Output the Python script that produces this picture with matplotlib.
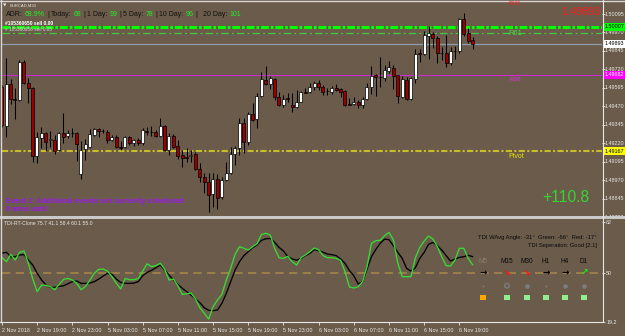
import matplotlib
matplotlib.use("Agg")
import matplotlib.pyplot as plt
from matplotlib.patches import Rectangle
import matplotlib.transforms as mtransforms
import numpy as np

# ------------------------------------------------------------------ data
time_labels = ["2 Nov 2018", "2 Nov 19:00", "2 Nov 23:00", "5 Nov 03:00", "5 Nov 07:00",
               "5 Nov 11:00", "5 Nov 15:00", "5 Nov 19:00", "5 Nov 23:00", "6 Nov 03:00",
               "6 Nov 07:00", "6 Nov 11:00", "6 Nov 15:00", "6 Nov 19:00"]
time_label_bars = [0, 8, 16, 24, 32, 40, 48, 56, 64, 72, 80, 88, 96, 104]

open_ = [1.49601, 1.49336, 1.49621, 1.49519, 1.49513, 1.49770, 1.49628, 1.49594, 1.49133, 1.49255,
         1.49289, 1.49242, 1.49242, 1.49174, 1.49289, 1.49269, 1.49289, 1.49289, 1.49011, 1.49181,
         1.49194, 1.49275, 1.49316, 1.49303, 1.49296, 1.49242, 1.49262, 1.49194, 1.49194, 1.49262,
         1.49221, 1.49242, 1.49221, 1.49303, 1.49296, 1.49296, 1.49269, 1.49336, 1.49174, 1.49269,
         1.49201, 1.49140, 1.49126, 1.49133, 1.49147, 1.49045, 1.48991, 1.48957, 1.48876, 1.48977,
         1.48856, 1.48971, 1.49018, 1.49147, 1.49187, 1.49357, 1.49228, 1.49418, 1.49384, 1.49540,
         1.49648, 1.49621, 1.49655, 1.49533, 1.49479, 1.49526, 1.49479, 1.49465, 1.49499, 1.49567,
         1.49567, 1.49601, 1.49628, 1.49601, 1.49574, 1.49567, 1.49594, 1.49587, 1.49574, 1.49485,
         1.49485, 1.49499, 1.49479, 1.49519, 1.49601, 1.49682, 1.49668, 1.49662, 1.49709, 1.49729,
         1.49682, 1.49533, 1.49648, 1.49519, 1.49655, 1.49831, 1.49824, 1.49946, 1.49960, 1.49932,
         1.49831, 1.49831, 1.49763, 1.49844, 1.49844, 1.50061, 1.49966, 1.49919]
high = [1.49614, 1.49797, 1.49655, 1.49594, 1.49783, 1.49783, 1.49662, 1.49601, 1.49296, 1.49330,
        1.49296, 1.49303, 1.49275, 1.49296, 1.49424, 1.49309, 1.49323, 1.49296, 1.49235, 1.49248,
        1.49316, 1.49323, 1.49323, 1.49316, 1.49309, 1.49275, 1.49275, 1.49235, 1.49269, 1.49269,
        1.49248, 1.49255, 1.49323, 1.49330, 1.49336, 1.49309, 1.49391, 1.49343, 1.49289, 1.49282,
        1.49242, 1.49174, 1.49187, 1.49174, 1.49160, 1.49086, 1.49018, 1.49018, 1.49018, 1.49011,
        1.48991, 1.49093, 1.49194, 1.49201, 1.49391, 1.49391, 1.49431, 1.49492, 1.49560, 1.49702,
        1.49743, 1.49675, 1.49662, 1.49567, 1.49546, 1.49560, 1.49560, 1.49580, 1.49574, 1.49594,
        1.49628, 1.49641, 1.49648, 1.49614, 1.49594, 1.49607, 1.49621, 1.49594, 1.49580, 1.49526,
        1.49533, 1.49513, 1.49533, 1.49628, 1.49743, 1.49689, 1.49804, 1.49750, 1.49777, 1.49750,
        1.49682, 1.49675, 1.49668, 1.49668, 1.49858, 1.49858, 1.49980, 1.50014, 1.49973, 1.49946,
        1.49872, 1.49953, 1.49872, 1.49878, 1.50068, 1.50102, 1.50000, 1.49939]
low = [1.49330, 1.49262, 1.49485, 1.49384, 1.49506, 1.49621, 1.49492, 1.49093, 1.49086, 1.49187,
       1.49167, 1.49194, 1.49147, 1.49167, 1.49221, 1.49255, 1.49262, 1.49099, 1.48977, 1.49106,
       1.49187, 1.49269, 1.49262, 1.49289, 1.49221, 1.49235, 1.49187, 1.49174, 1.49187, 1.49208,
       1.49201, 1.49208, 1.49208, 1.49275, 1.49269, 1.49262, 1.49262, 1.49167, 1.49140, 1.49187,
       1.49113, 1.49059, 1.49093, 1.49093, 1.49038, 1.48957, 1.48883, 1.48754, 1.48788, 1.48774,
       1.48842, 1.48964, 1.49011, 1.49072, 1.49140, 1.49154, 1.49208, 1.49370, 1.49323, 1.49533,
       1.49614, 1.49587, 1.49513, 1.49472, 1.49465, 1.49499, 1.49431, 1.49458, 1.49499, 1.49560,
       1.49560, 1.49580, 1.49580, 1.49546, 1.49546, 1.49553, 1.49574, 1.49533, 1.49472, 1.49479,
       1.49479, 1.49458, 1.49458, 1.49513, 1.49553, 1.49540, 1.49601, 1.49641, 1.49695, 1.49587,
       1.49492, 1.49526, 1.49513, 1.49513, 1.49628, 1.49770, 1.49817, 1.49790, 1.49865, 1.49763,
       1.49783, 1.49736, 1.49750, 1.49790, 1.49831, 1.49946, 1.49899, 1.49858]
close = [1.49343, 1.49621, 1.49519, 1.49513, 1.49770, 1.49628, 1.49594, 1.49133, 1.49262, 1.49289,
         1.49228, 1.49248, 1.49167, 1.49289, 1.49262, 1.49289, 1.49292, 1.49215, 1.49174, 1.49215,
         1.49282, 1.49316, 1.49303, 1.49300, 1.49242, 1.49262, 1.49194, 1.49190, 1.49262, 1.49221,
         1.49242, 1.49221, 1.49309, 1.49296, 1.49298, 1.49269, 1.49336, 1.49174, 1.49269, 1.49194,
         1.49133, 1.49120, 1.49123, 1.49140, 1.49045, 1.48991, 1.48957, 1.48869, 1.48977, 1.48849,
         1.48971, 1.49018, 1.49147, 1.49187, 1.49357, 1.49228, 1.49418, 1.49377, 1.49540, 1.49655,
         1.49621, 1.49662, 1.49533, 1.49479, 1.49519, 1.49522, 1.49465, 1.49499, 1.49567, 1.49563,
         1.49601, 1.49628, 1.49601, 1.49567, 1.49571, 1.49594, 1.49580, 1.49567, 1.49479, 1.49482,
         1.49499, 1.49479, 1.49519, 1.49601, 1.49675, 1.49668, 1.49671, 1.49716, 1.49736, 1.49675,
         1.49540, 1.49655, 1.49519, 1.49662, 1.49824, 1.49824, 1.49953, 1.49966, 1.49932, 1.49831,
         1.49828, 1.49763, 1.49844, 1.49847, 1.50061, 1.49960, 1.49912, 1.49892]

tdi_green = [59.4, 56.9, 61.5, 57.9, 62.8, 63.6, 55.9, 46.0, 38.1, 42.1,
             42.1, 41.2, 39.3, 42.7, 45.8, 46.4, 45.4, 43.3, 39.3, 41.4,
             45.4, 49.6, 52.1, 52.3, 51.0, 47.5, 43.3, 39.8, 46.4, 45.6,
             45.6, 46.4, 51.0, 55.6, 53.8, 54.4, 55.9, 52.1, 45.4, 46.0,
             41.8, 36.4, 36.8, 37.2, 33.5, 28.0, 24.5, 20.9, 28.7, 32.9,
             36.4, 45.4, 52.7, 61.5, 66.3, 65.3, 64.2, 66.3, 68.2, 74.0,
             74.7, 73.6, 65.3, 59.4, 59.0, 60.2, 56.9, 54.8, 59.4, 61.1,
             63.2, 65.5, 64.4, 60.7, 59.4, 59.4, 59.0, 57.7, 50.6, 41.0,
             40.4, 41.2, 44.4, 53.8, 68.4, 70.1, 70.3, 73.2, 75.3, 70.5,
             55.9, 47.5, 47.5, 47.5, 59.4, 65.9, 69.9, 73.0, 71.1, 66.3,
             60.0, 54.4, 54.2, 57.9, 65.3, 65.3, 59.0, 55.0]
tdi_black = [62.3, 62.8, 60.0, 60.0, 61.1, 61.3, 57.9, 54.8, 49.6, 45.4,
             42.3, 40.8, 40.8, 41.4, 41.8, 43.1, 44.4, 44.8, 43.3, 43.3,
             43.5, 44.4, 46.0, 47.9, 49.6, 49.0, 46.0, 43.9, 43.3, 43.3,
             43.5, 44.4, 48.1, 50.2, 51.5, 53.1, 54.8, 51.7, 48.5, 45.4,
             42.7, 40.2, 38.1, 36.0, 33.5, 31.2, 28.0, 26.4, 26.2, 26.6,
             30.8, 37.0, 44.4, 51.7, 56.9, 60.7, 63.2, 65.7, 67.4, 70.3,
             71.3, 71.5, 69.0, 65.9, 63.6, 60.0, 58.6, 57.9, 59.0, 60.7,
             62.1, 64.4, 63.8, 62.8, 61.7, 61.3, 60.7, 58.6, 55.9, 51.3,
             48.1, 42.9, 44.4, 52.3, 60.0, 64.6, 68.4, 71.1, 70.7, 66.9,
             62.8, 59.0, 52.7, 51.0, 53.1, 59.0, 62.8, 67.8, 69.0, 66.9,
             64.2, 60.7, 57.3, 58.6, 59.6, 60.0, 60.9, 60.1]

price_ticks = [1.50095, 1.49970, 1.49845, 1.49720, 1.49595, 1.49470,
               1.49345, 1.49220, 1.49095, 1.48970, 1.48845, 1.48720]
level_top = 1.50007
level_r61 = 1.49966
level_bid = 1.49893
level_r38 = 1.49682
level_pivot = 1.49167
level_r100_label = "R100"
tdi_ticks = [82, 50, 19.2]
tdi_mid = 50
tdi_header = "TDI-RT-Clone 75.7 41.1 58.4 60.1 55.0"
adr_pieces = [("ADR:", "k"), ("68.9%", "g"), ("|", "k"), ("Today:", "k"), ("68", "g"),
              ("|", "k"), ("1 Day:", "k"), ("99", "g"), ("|", "k"), ("5 Day:", "k"), ("78", "g"),
              ("|", "k"), ("10 Day:", "k"), ("96", "g"), ("|", "k"), ("20 Day:", "k"), ("101", "g")]
tf_labels = ["M5", "M15", "M30", "H1", "H4", "D1"]
tf_arrows = ["→", "↘", "↘", "→", "→", "↗"]
tf_arrow_colors = ["#000000", "#FF1010", "#FF1010", "#000000", "#000000", "#10EE10"]
tf_dots = ["small", "ring", "dot", "small", "dot", "dot"]
tf_squares = ["#FFA500", "#90EE90", "#90EE90", "#90EE90", "#90EE90", "#90EE90"]

# ------------------------------------------------------------------ layout
W, H = 625, 336
BG = "#6B5B4B"
FG = "#E8E8E8"
plt.rcParams['font.family'] = ['Liberation Sans', 'DejaVu Sans']
fig = plt.figure(figsize=(W / 100, H / 100), dpi=100)
fig.patch.set_facecolor(BG)


def px_rect(x0, y0, x1, y1):
    return [x0 / W, 1 - y1 / H, (x1 - x0) / W, (y1 - y0) / H]


PX_PER_BAR = 4.4
X0_BAR = 1.7
AX_L, AX_R = 2, 602
xlim = ((AX_L - X0_BAR) / PX_PER_BAR, (AX_R - X0_BAR) / PX_PER_BAR)

ax = fig.add_axes(px_rect(AX_L, 2, AX_R, 215))
sub = fig.add_axes(px_rect(AX_L, 219, AX_R, 322))
for a in (ax, sub):
    a.set_facecolor(BG)
    for s in a.spines.values():
        s.set_visible(False)
    a.set_xlim(*xlim)

ax.set_ylim(1.487336, 1.501763)
sub.set_ylim(19.07, 83.69)

# ---- candles
o = np.array(open_); c = np.array(close); hi = np.array(high); lo = np.array(low)
idx = np.arange(len(o))
up = c >= o
ax.vlines(idx, lo, hi, color='black', lw=0.75, zorder=3)
ax.bar(idx, np.maximum(np.abs(c - o), 0.000012), bottom=np.minimum(o, c), width=0.64,
       color=np.where(up, 'white', '#990000'), edgecolor='black', linewidth=0.5, zorder=4)

# ---- horizontal levels
ax.axhline(level_top, color='#00FF00', lw=2.2, linestyle=(0, (2.6, 0.6, 0.9, 0.6)), zorder=2)
ax.axhline(level_r61, color='#3FCB3F', lw=0.9, linestyle=(0, (6, 2.5, 1.5, 2.5)), zorder=2)
ax.axhline(level_bid, color='#8E9CAE', lw=0.9, zorder=2)
ax.axhline(level_r38, color='#D22AD2', lw=0.8, zorder=2)
ax.axhline(level_pivot, color='#C8BE2A', lw=1.5, linestyle=(0, (3, 1.1, 1, 1.1)), zorder=2)

# ---- price axis
ax.yaxis.tick_right()
ax.set_yticks([p for p in price_ticks if ax.get_ylim()[0] <= p <= ax.get_ylim()[1]])
ax.set_yticklabels([])
ax.tick_params(axis='y', length=2, width=0.6, color=FG, direction='out')
ax.set_xticks([])
blend = mtransforms.blended_transform_factory(ax.transAxes, ax.transData)
for p in price_ticks:
    ax.text(1.0 + 2.5 / 600, p, f"{p:.5f}", transform=blend, fontsize=3.9, color=FG,
            va='center', ha='left', clip_on=False)
for lvl, fc, tc in [(level_top, '#00FF00', 'black'), (level_bid, 'white', 'black'),
                    (level_r38, '#FF00FF', 'white'), (level_pivot, '#FFFF00', 'black')]:
    ax.text(1.0 + 2.5 / 600, lvl, f"{lvl:.5f}", transform=blend, fontsize=3.9, color=tc,
            va='center', ha='left', clip_on=False, zorder=6,
            bbox=dict(boxstyle='square,pad=0.25', fc=fc, ec='none'))

# ---- TDI subwindow
sub.plot(idx, tdi_black, color='black', lw=0.95, zorder=3)
sub.plot(idx, tdi_green, color='#33DD33', lw=0.95, zorder=4)
sub.axhline(tdi_mid, color='#A4864A', lw=1.2, linestyle=(0, (5, 3.2)), zorder=2)
sub.yaxis.tick_right()
sub.set_yticks(tdi_ticks)
sub.set_yticklabels([f"{t:g}" for t in tdi_ticks])
sub.tick_params(axis='y', length=2, width=0.6, color=FG, labelcolor=FG, labelsize=3.9, pad=1)
sub.set_xticks(time_label_bars)
sub.set_xticklabels(time_labels, ha='left')
sub.tick_params(axis='x', length=2.5, width=0.6, color=FG, labelcolor=FG, labelsize=3.9, pad=1.5)

# ------------------------------------------------------------------ overlay (pixel space)
ov = fig.add_axes([0, 0, 1, 1], zorder=10)
ov.set_xlim(0, W); ov.set_ylim(H, 0); ov.axis('off')
ov.patch.set_alpha(0)

# frame
ov.plot([0, W], [0.8, 0.8], color='#D8D8D8', lw=1.0)
ov.plot([0.7, 0.7], [0, 322], color='#D8D8D8', lw=1.0)
ov.plot([602.5, 602.5], [0, 322], color=FG, lw=0.8)
ov.plot([0, 602.5], [322.3, 322.3], color=FG, lw=0.8)
ov.add_patch(Rectangle((0, 215.5), W, 3.3, color='#C9C9C9', lw=0))

renderer = fig.canvas.get_renderer()


def text_w(s, size, **kw):
    t = fig.text(0, 0, s + '|', fontsize=size, **kw)
    t2 = fig.text(0, 0, '|', fontsize=size, **kw)
    w = t.get_window_extent(renderer).width - t2.get_window_extent(renderer).width
    t.remove(); t2.remove()
    return w


def fit_text(x0, x1, y, s, guess=5.0, ha='left', **kw):
    size = guess * (x1 - x0) / text_w(s, guess, **kw)
    x = x0 if ha == 'left' else x1
    return ov.text(x, y, s, fontsize=size, va='center', ha=ha, **kw)


# header
ov.text(3.2, 5.6, "▼", fontsize=3.2, color=FG, va='center', ha='left', family='DejaVu Sans')
fit_text(10, 37, 5.6, "EURCAD,M30", color=FG)

cols = {"k": "#111111", "g": "#22EE22"}
guess = 5.0
total = sum(text_w(s, guess) for s, _ in adr_pieces)
sp_w = text_w(" ", guess)
gaps = len(adr_pieces) - 1
scale = (245 - 6) / (total + sp_w * gaps + sp_w * 2)
size = guess * scale
x = 6
for k, (s, cc) in enumerate(adr_pieces):
    ov.text(x, 14.6, s, fontsize=size, color=cols[cc], va='center', ha='left')
    x += text_w(s, size) + text_w(" ", size) * (3 if s == "|" and adr_pieces[k + 1][0] == "20 Day:" else 1)

fit_text(5, 53, 23.2, "#105360650 sell 0.00", color='white', fontweight='bold')
fit_text(5, 53, 29.6, "# 105360656 sell 0.05", color='#D8D8D8')

# level labels
fit_text(508, 522, 33.6, "R61", color='#3FDB3F')
fit_text(510, 522, 79.5, "R38", color='#E030E0')
fit_text(508, 524, 157, "Pivot", color='#E6E600')
fit_text(509, 521, 3.4, level_r100_label, color='#FF2020')
fit_text(561, 600, 12.2, f"{level_bid:.5f}", color='#FF1A1A', guess=8)
fit_text(542, 589, 197.5, "+110.8", color='#33D633', guess=8)

# event text
fit_text(6, 187, 201.8, "Event 1: Additional events not currently scheduled",
         color='#9A1AE8', fontweight='bold')
fit_text(6, 52, 209.2, "0 mins until :", color='#9A1AE8', fontweight='bold')

# TDI texts
fit_text(4, 93, 223.5, tdi_header, color=FG)
fit_text(477, 597, 237.7, "TDI WAvg Angle: -31°  Green: -66°  Red: -17°", color='#0A0A0A', ha='right')
fit_text(527, 597, 245.2, "TDI Seperation: Good [2.1]", color='#0A0A0A', ha='right')

tf_x = [483, 507, 527, 546, 565, 584]
for j, lab in enumerate(tf_labels):
    ov.text(tf_x[j], 261.7, lab, fontsize=4.7, ha='center', va='center',
            color='#8C7E6E' if j == 0 else '#0A0A0A')
    ov.text(tf_x[j], 273.3, tf_arrows[j], fontsize=6.5, ha='center', va='center',
            color=tf_arrow_colors[j], family='DejaVu Sans', fontweight='bold')
    st = tf_dots[j]
    if st == 'small':
        ov.scatter([tf_x[j]], [285.7], s=2.2, color='#7C7C7C', lw=0)
    elif st == 'ring':
        ov.scatter([tf_x[j]], [285.7], s=11, facecolor='none', edgecolor='#7C7C7C', lw=1.0)
    else:
        ov.scatter([tf_x[j]], [285.7], s=11, color='#7C7C7C', lw=0)
    ov.add_patch(Rectangle((tf_x[j] - 2.6, 297.7 - 2.6), 5.2, 5.2, color=tf_squares[j], lw=0))

fig.savefig("out.png", dpi=100, facecolor=BG)
